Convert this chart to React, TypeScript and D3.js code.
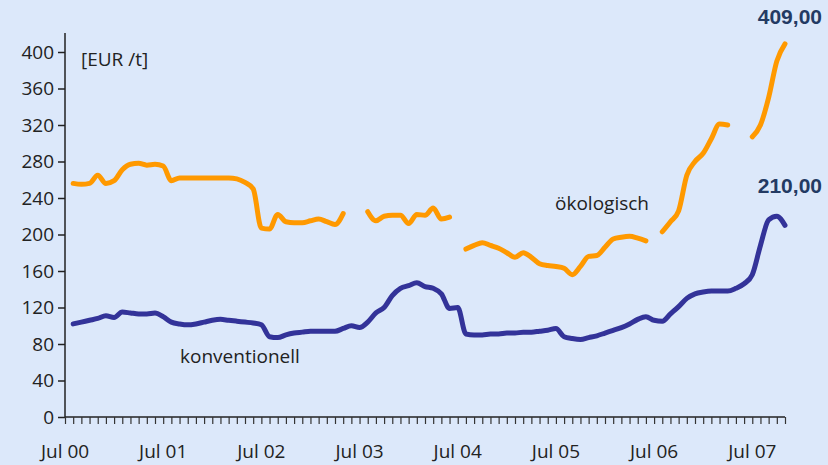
import React, { useEffect, useRef } from 'react';
import * as d3 from 'd3';

// monthly values, Aug 2000 .. Nov 2007 (null = no quote)
const konventionell = [
  102, 104, 106, 108, 111, 109, 115, 114, 113, 113, 114, 110,
  104, 102, 101, 102, 104, 106, 107, 106, 105, 104, 103, 101,
  88, 87, 90, 92, 93, 94, 94, 94, 94, 97, 100, 98,
  104, 114, 120, 133, 141, 144, 147, 143, 141, 135, 119, 120,
  91, 90, 90, 91, 91, 92, 92, 93, 93, 94, 95, 97,
  88, 86, 85, 87, 89, 92, 95, 98, 102, 107, 110, 106,
  105, 113, 121, 130, 135, 137, 138, 138, 138, 141, 146, 156,
  188, 216, 220, 210,
];

const oekologisch: (number | null)[] = [
  256, 255, 256, 265, 256, 259, 271, 277, 278, 276, 277, 275,
  259, 262, 262, 262, 262, 262, 262, 262, 261, 257, 250, 207,
  206, 222, 214, 213, 213, 215, 217, 214, 211, 223, null, null,
  225, 215, 220, 221, 221, 212, 222, 221, 229, 217, 219, null,
  184, 188, 191, 188, 185, 180, 175, 180, 175, 168, 166, 165,
  163, 156, 165, 176, 177, 186, 195, 197, 198, 196, 193, null,
  203, 214, 226, 265, 280, 289, 305, 321, 320, null, null, 307,
  320, 350, 390, 409,
];

const yTicks = [0, 40, 80, 120, 160, 200, 240, 280, 320, 360, 400];
const xLabels = ['Jul 00', 'Jul 01', 'Jul 02', 'Jul 03', 'Jul 04', 'Jul 05', 'Jul 06', 'Jul 07'];

const App = () => {
  const ref = useRef<SVGSVGElement>(null);

  useEffect(() => {
    const svg = d3.select(ref.current);
    svg.selectAll('*').remove();
    const width = 828;
    const height = 465;
    const font = '"Open Sans", Lato, sans-serif';
    const fontSize = 19;

    // month index 0 = Jul 2000
    const x = d3.scaleLinear().domain([0, 88]).range([65, 785]);
    const y = d3.scaleLinear().domain([0, 400]).range([417, 52]);

    svg.append('rect').attr('width', width).attr('height', height).attr('fill', '#dce8fa');

    // y axis
    const yAxis = svg.append('g')
      .attr('transform', `translate(${x(0)},0)`)
      .call(d3.axisLeft(y).tickValues(yTicks).tickSize(7).tickPadding(4));
    yAxis.select('.domain').remove();
    yAxis.append('line').attr('x1', 0).attr('x2', 0).attr('y1', 33).attr('y2', y(0))
      .attr('stroke', '#222').attr('stroke-width', 1.5);
    yAxis.selectAll('line').attr('stroke', '#222').attr('stroke-width', 1.5);
    yAxis.selectAll('text').attr('font-family', font).attr('font-size', fontSize).attr('fill', '#222');

    // x axis: one tick per month
    const xAxis = svg.append('g')
      .attr('transform', `translate(0,${y(0)})`)
      .call(d3.axisBottom(x).tickValues(d3.range(0, 89)).tickSize(7).tickFormat(() => ''));
    xAxis.select('.domain').attr('stroke', '#222').attr('stroke-width', 1.5).attr('d', `M${x(0)},0H${x(88)}`);
    xAxis.selectAll('line').attr('stroke', '#333').attr('stroke-width', 1.2);

    svg.append('g').selectAll('text')
      .data(xLabels)
      .enter()
      .append('text')
      .attr('x', (d, i) => x(i * 12))
      .attr('y', 458)
      .attr('text-anchor', 'middle')
      .attr('font-family', font)
      .attr('font-size', fontSize)
      .attr('fill', '#222')
      .text(d => d);

    const line = d3.line<number | null>()
      .defined(d => d !== null)
      .x((d, i) => x(i + 1))
      .y(d => y(d as number))
      .curve(d3.curveMonotoneX);

    svg.append('path')
      .datum(oekologisch)
      .attr('d', line)
      .attr('fill', 'none')
      .attr('stroke', '#ff9900')
      .attr('stroke-width', 5)
      .attr('stroke-linecap', 'round')
      .attr('stroke-linejoin', 'round');

    svg.append('path')
      .datum(konventionell)
      .attr('d', line)
      .attr('fill', 'none')
      .attr('stroke', '#333399')
      .attr('stroke-width', 5)
      .attr('stroke-linecap', 'round')
      .attr('stroke-linejoin', 'round');

    // texts
    const label = (tx: number, ty: number, t: string) =>
      svg.append('text').attr('x', tx).attr('y', ty)
        .attr('font-family', font).attr('font-size', fontSize).attr('fill', '#222').text(t);
    label(81, 66, '[EUR /t]');
    label(180, 363, 'konventionell');
    label(555, 210, 'ökologisch');

    const value = (ty: number, v: number) =>
      svg.append('text').attr('x', 822).attr('y', ty).attr('text-anchor', 'end')
        .attr('font-family', '"Liberation Sans", Arial, sans-serif').attr('font-weight', 'bold')
        .attr('font-size', 21).attr('fill', '#233a63')
        .text(v.toFixed(2).replace('.', ','));
    value(24, oekologisch[oekologisch.length - 1] as number);
    value(193, konventionell[konventionell.length - 1]);
  }, []);

  return (
    <svg ref={ref} width={828} height={465} style={{ position: 'absolute', left: 0, top: 0 }} />
  );
};

export default App;
